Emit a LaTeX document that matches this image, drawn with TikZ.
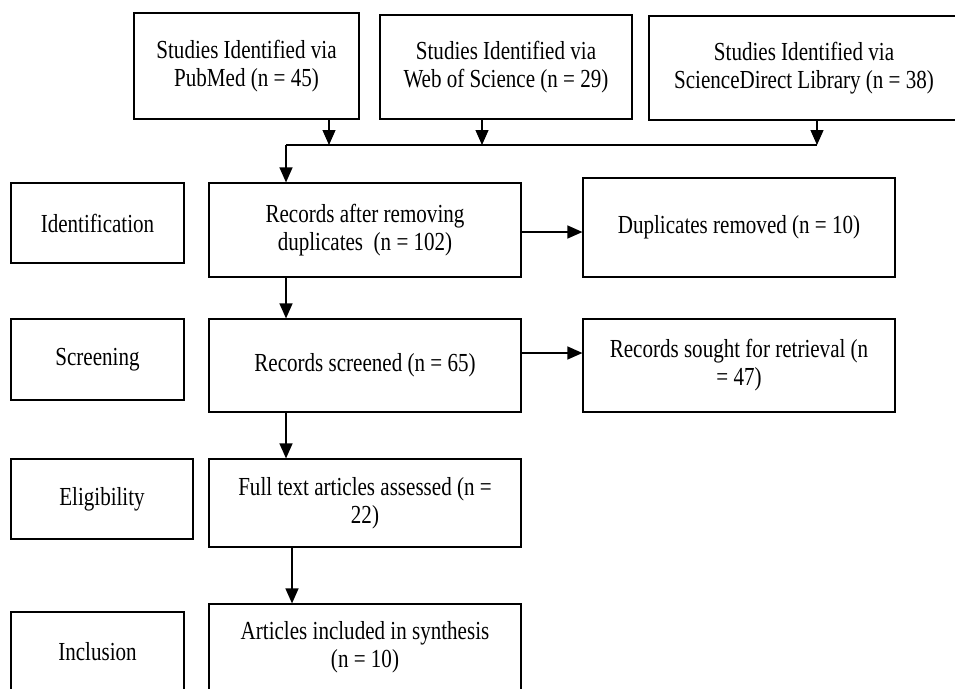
\documentclass[tikz,border=0pt]{standalone}
\usepackage{fontspec}
\setmainfont{Liberation Serif}[FakeStretch=0.81]
\usetikzlibrary{arrows.meta}
\tikzset{
  box/.style={draw=black, line width=1.2pt, inner sep=0pt, align=center,
    font=\fontsize{26}{28}\selectfont},
  arr/.style={line width=1.2pt, -{Triangle[length=15pt,width=13pt]}},
  ln/.style={line width=1.2pt},
}
\begin{document}
\begin{tikzpicture}[x=1pt,y=-1pt]
\useasboundingbox (0,0) rectangle (955,688);
\clip (0,0) rectangle (955,688);
% top sources
\node[box, minimum width=225pt, minimum height=106pt] (b1) at (246.5,66) {Studies Identified via\\PubMed (n = 45)};
\node[box, minimum width=252pt, minimum height=104pt] (b2) at (506,67) {Studies Identified via\\Web of Science (n = 29)};
\node[box, minimum width=310pt, minimum height=104pt] (b3) at (804,68) {Studies Identified via\\ScienceDirect Library (n = 38)};
% stage labels
\node[box, minimum width=173pt, minimum height=80pt] (id) at (97.5,223) {Identification};
\node[box, minimum width=173pt, minimum height=81pt] (scr) at (97.5,359.5) {Screening};
\node[box, minimum width=182pt, minimum height=80pt] (elig) at (102,499) {Eligibility};
\node[box, minimum width=173pt, minimum height=80pt] (inc) at (97.5,652) {Inclusion};
% main column
\node[box, minimum width=312pt, minimum height=94pt] (rec) at (365,230) {Records after removing\\duplicates\ \ (n = 102)};
\node[box, minimum width=312pt, minimum height=93pt] (rs) at (365,365.5) {Records screened (n = 65)};
\node[box, minimum width=312pt, minimum height=88pt] (ft) at (365,503) {Full text articles assessed (n =\\22)};
\node[box, minimum width=312pt, minimum height=86pt] (art) at (365,647) {Articles included in synthesis\\(n = 10)};
% side boxes
\node[box, minimum width=312pt, minimum height=99pt] (dup) at (739,227.5) {Duplicates removed (n = 10)};
\node[box, minimum width=312pt, minimum height=93pt] (sought) at (739,365.5) {Records sought for retrieval (n\\= 47)};
% junction coordinates
\coordinate (j0) at (286,145);
\coordinate (j1) at (329,145);
\coordinate (j2) at (482,145);
\coordinate (j3) at (817,145);
\coordinate (c1) at (286,0);
\coordinate (c2) at (292,0);
\coordinate (r1) at (0,232);
\coordinate (r2) at (0,353);
% connectors
\draw[arr] (b1.south -| j1) -- (j1);
\draw[arr] (b2.south -| j2) -- (j2);
\draw[arr] (b3.south -| j3) -- (j3);
\draw[ln] (j0) -- (j3);
\draw[arr] (j0) -- (rec.north -| j0);
\draw[arr] (rec.south -| c1) -- (rs.north -| c1);
\draw[arr] (rs.south -| c1) -- (ft.north -| c1);
\draw[arr] (ft.south -| c2) -- (art.north -| c2);
\draw[arr] (rec.east |- r1) -- (dup.west |- r1);
\draw[arr] (rs.east |- r2) -- (sought.west |- r2);
\end{tikzpicture}
\end{document}
